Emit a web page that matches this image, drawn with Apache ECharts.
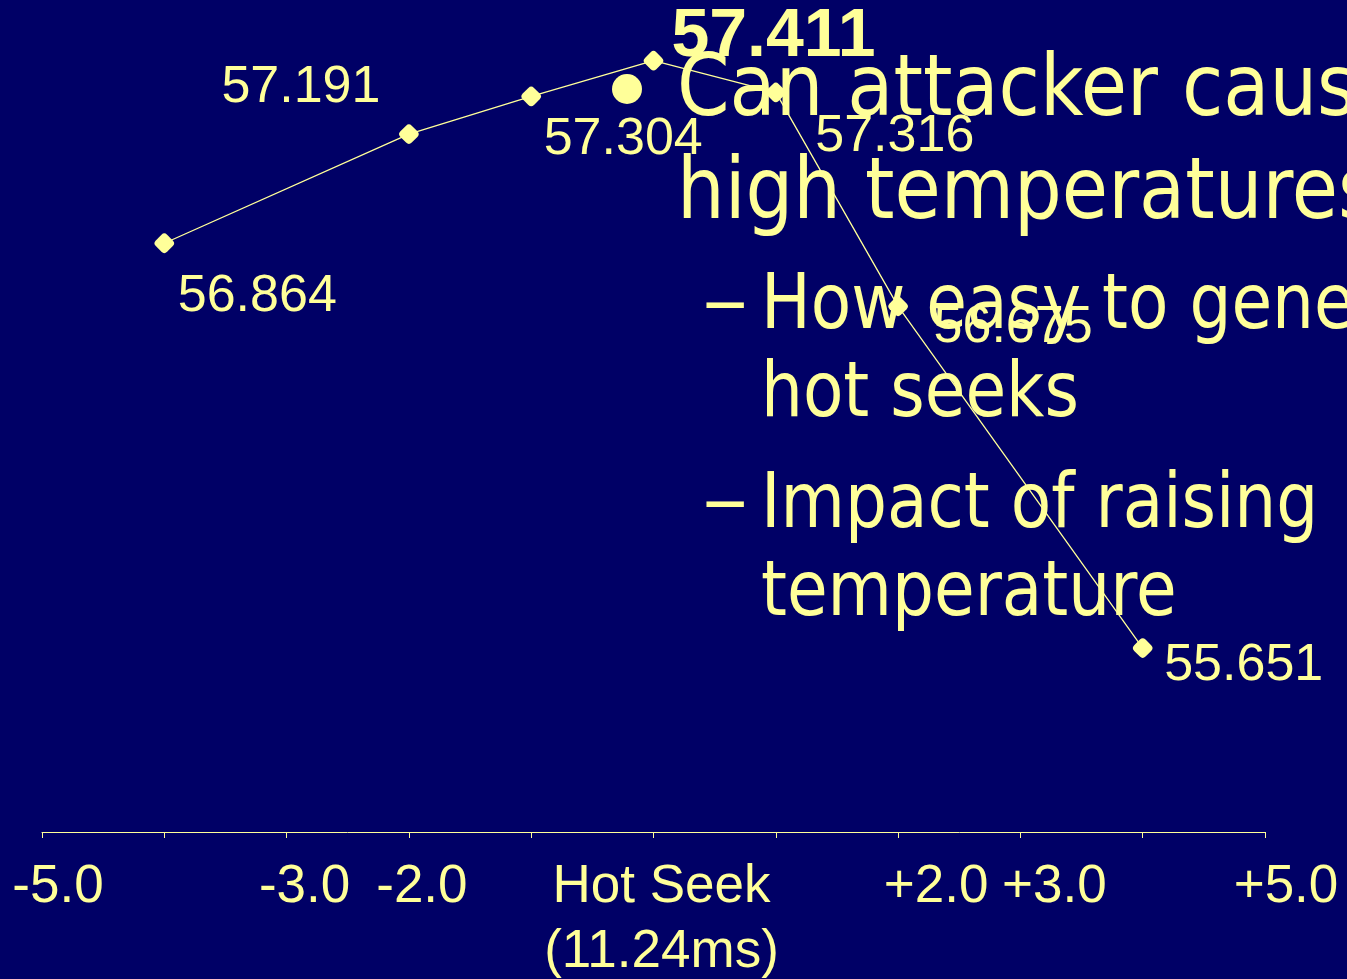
<!DOCTYPE html>
<html>
<head>
<meta charset="utf-8">
<title>Hot Seek throughput</title>
<script src="https://cdn.jsdelivr.net/npm/echarts@6/dist/echarts.min.js"></script>
<style>
  html, body { margin: 0; padding: 0; background: #000066; }
  #chart { width: 1347px; height: 979px; }
</style>
</head>
<body>
<div id="chart"></div>
<script>
// Seek offsets (relative to the hot seek) and the measured values at each offset
const seekOffsets = [-4, -2, -1, 0, 1, 2, 4];
const throughput = [56.864, 57.191, 57.304, 57.411, 57.316, 56.675, 55.651];

// Labelled positions on the x axis
const tickValues = [-5, -3, -2, 0, 2, 3, 5];
const tickLabels = ['-5.0', '-3.0', '-2.0', 'Hot Seek\n(11.24ms)', '+2.0', '+3.0', '+5.0'];

// Slide text
const headingLines = ['Can attacker cause', 'high temperatures?'];
const subPoints = [
  ['How easy to generate', 'hot seeks'],
  ['Impact of raising', 'temperature']
];

const INK = '#FFFF99';
const NAVY = '#000066';
const chart = echarts.init(document.getElementById('chart'), null, { renderer: 'canvas' });

// where each value label sits relative to its point
const labelShift = [[93, 53], [-108, -46], [92, 43], [120, -23], [119, 44], [115, 21], [101, 18]];
// horizontal nudge of each axis label (left padding)
const tickPad = [32, 36, 26, 16, 76, 68, 42];

const points = seekOffsets.map((x, i) => {
  const item = { value: [x, throughput[i]], label: { offset: labelShift[i] } };
  if (x === 0) {
    item.label.fontSize = 68;
    item.label.fontWeight = 'bold';
  }
  return item;
});

const rich = {};
tickPad.forEach((p, i) => {
  rich['t' + i] = {
    color: INK,
    fontFamily: '"Liberation Sans", Arial, sans-serif',
    fontSize: 53,
    lineHeight: 65,
    padding: [0, 0, 0, p]
  };
});

const bodyFont = '"DejaVu Sans", Tahoma, Verdana, sans-serif';
const graphics = [];
headingLines.forEach((t, i) => {
  graphics.push({
    type: 'text', x: 677, y: 93 + i * 103, scaleX: 0.875, z: 1,
    style: { text: t, fontFamily: bodyFont, fontSize: 86, fill: INK, verticalAlign: 'middle', align: 'left' }
  });
});
graphics.push({
  type: 'circle', z: 1,
  shape: { cx: 627, cy: 89, r: 15 },
  style: { fill: INK }
});
const subTop = [308, 507];
subPoints.forEach((lines, k) => {
  graphics.push({
    type: 'text', x: 702, y: subTop[k] - 2, scaleX: 1.22, z: 1,
    style: { text: '\u2013', fontFamily: bodyFont, fontSize: 76, fill: INK, verticalAlign: 'middle', align: 'left' }
  });
  lines.forEach((t, j) => {
    graphics.push({
      type: 'text', x: 761, y: subTop[k] + j * 88, scaleX: 0.87, z: 1,
      style: { text: t, fontFamily: bodyFont, fontSize: 76, fill: INK, verticalAlign: 'middle', align: 'left' }
    });
  });
});

chart.setOption({
  backgroundColor: NAVY,
  animation: false,
  grid: { left: 42, right: 82, top: 31, bottom: 147, containLabel: false, outerBoundsMode: 'none' },
  xAxis: {
    type: 'value',
    min: -5, max: 5, interval: 1,
    axisLine: { show: true, onZero: false, lineStyle: { color: INK, width: 1 } },
    axisTick: { show: true, length: 6, lineStyle: { color: INK, width: 1 } },
    splitLine: { show: false },
    axisLabel: {
      show: true,
      margin: 23,
      showMinLabel: true,
      showMaxLabel: true,
      formatter: v => {
        const i = tickValues.indexOf(Math.round(v));
        return i < 0 ? '' : '{t' + i + '|' + tickLabels[i] + '}';
      },
      rich: rich
    }
  },
  yAxis: {
    type: 'value',
    min: 55.1, max: 57.5,
    show: false,
    splitLine: { show: false }
  },
  graphic: graphics,
  series: [{
    type: 'line',
    z: 3,
    data: points,
    symbol: 'roundRect',
    symbolSize: 16,
    symbolRotate: 45,
    itemStyle: { color: INK },
    lineStyle: { color: INK, width: 1.3 },
    label: {
      show: true,
      position: 'inside',
      align: 'center',
      verticalAlign: 'middle',
      color: INK,
      fontFamily: '"Liberation Sans", Arial, sans-serif',
      fontSize: 52,
      formatter: p => p.value[1].toFixed(3)
    },
    emphasis: { disabled: true }
  }]
});
</script>
</body>
</html>
